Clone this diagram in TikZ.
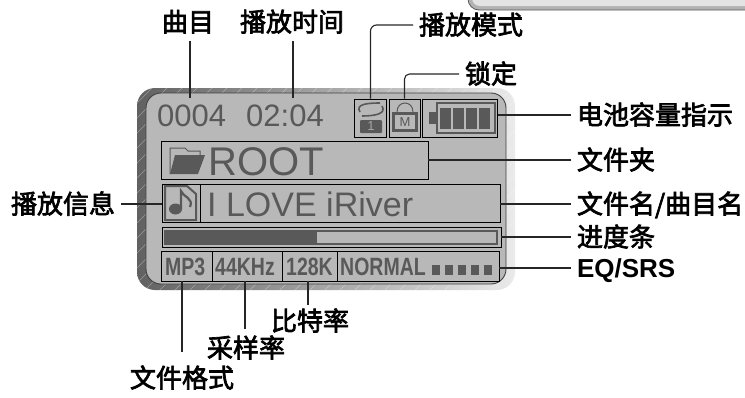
\documentclass[tikz,border=0pt]{standalone}
\usepackage{fontspec}
\setmainfont{Liberation Sans}
\newfontfamily\cjk[FakeBold=2.6]{Noto Sans CJK SC}
\newfontfamily\statusfont[FakeStretch=0.78]{Liberation Sans Bold}
\usetikzlibrary{positioning}
\definecolor{lcdgray}{gray}{0.72}
\definecolor{inkgray}{gray}{0.35}
\tikzset{
    labeltext/.style={font=\cjk\fontsize{26}{26}\selectfont, inner sep=1pt, outer sep=5pt, text height=22pt, text depth=3pt},
    panelbox/.style={draw=black, line width=0.9pt, inner sep=0pt},
    lcdtext/.style={text=inkgray, inner sep=0pt, anchor=base west},
    statustext/.style={text=inkgray, font=\statusfont\fontsize{25}{25}\selectfont, inner sep=0pt, anchor=base west},
    conn/.style={draw=black!85, line width=1.1pt}
}

\begin{document}
\begin{tikzpicture}[x=1pt,y=-1pt]
    \useasboundingbox (0,0) rectangle (745,397);

    % corner of the next panel
    \draw[draw=gray!70!black, fill=gray!60, line width=0.8pt, rounded corners=11pt] (468,-30) rectangle (760,10);
    \fill[gray!22, rounded corners=8pt] (472,-30) rectangle (760,6);

    % body of the player
    \begin{scope}
        \clip[rounded corners=18pt] (137,88) rectangle (515,290);
        \shade[left color=black!62, right color=black!8] (137,88) rectangle (515,290);
        \foreach \hatchx in {130,145,...,660} {
            \draw[white, opacity=0.35, line width=0.5pt] (\hatchx,80) -- ++(-250,250);
        }
    \end{scope}
    \draw[draw=black!75, fill=lcdgray, line width=0.9pt, rounded corners=15pt] (146,93) rectangle (506,284);

    % panels
    \node[panelbox, minimum width=32pt, minimum height=38pt] (modebox) at (370.5,118) {};
    \node[panelbox, minimum width=31pt, minimum height=38pt] (lockbox) at (404.5,118) {};
    \node[panelbox, minimum width=75pt, minimum height=38pt] (batterybox) at (460,118) {};
    \node[panelbox, minimum width=267pt, minimum height=38pt] (folderbox) at (294.5,160) {};
    \node[panelbox, minimum width=338pt, minimum height=38pt] (trackbox) at (331,203) {};
    \node[panelbox, minimum width=339pt, minimum height=20pt] (progressbox) at (331.5,237) {};
    \node[panelbox, minimum width=338pt, minimum height=30pt] (statusbox) at (330,266) {};
    \draw[black, line width=0.9pt] (200,184) -- (200,222);
    \foreach \divx in {212,282,337} {
        \draw[black, line width=0.9pt] (\divx,251) -- (\divx,281);
    }

    % lcd texts
    \node[lcdtext, font=\fontsize{31}{31}\selectfont] (counttext) at (157,126) {0004};
    \node[lcdtext, font=\fontsize{31}{31}\selectfont] (timetext) at (246,126) {02:04};
    \node[lcdtext, font=\fontsize{40}{40}\selectfont] (roottext) at (208,175) {ROOT};
    \node[lcdtext, font=\fontsize{34}{34}\selectfont] (songtext) at (207,216) {I LOVE iRiver};
    \node[statustext] (mptext) at (165,275) {MP3};
    \node[statustext] (ratetext) at (215,275) {44KHz};
    \node[statustext] (bittext) at (286,275) {128K};
    \node[statustext] (eqtext) at (340,275) {NORMAL};
    \foreach \dotx in {432,445,458,471,484} {
        \fill[inkgray] (\dotx,265) rectangle ++(8,10);
    }

    % progress bar
    \draw[draw=inkgray, line width=1.2pt] (165,231) rectangle (497,244);
    \fill[inkgray] (165,231) rectangle (317,244);

    % folder
    \draw[draw=inkgray, line width=1pt] (170,174) -- (170,148) -- (185,148) -- (188,151) -- (200,151) -- (200,155);
    \fill[inkgray] (175,155) -- (205,155) -- (198,174) -- (170,174) -- cycle;

    % note
    \draw[draw=inkgray, line width=2pt] (165,186) -- (187,186) -- (196,194) -- (196,220) -- (165,220) -- cycle;
    \fill[inkgray] (175.5,209) ellipse (6.5pt and 5.5pt);
    \draw[inkgray, line width=2.2pt] (181,209) -- (181,191) .. controls (183,197) and (194,198) .. (190,207);

    % play mode icon
    \draw[draw=inkgray, line width=1.6pt] (360,112) .. controls (355,104) and (368,103) .. (380,103);
    \draw[draw=inkgray, line width=1.6pt] (382,106) .. controls (387,114) and (374,116) .. (362,116);
    \fill[inkgray, rounded corners=1pt] (360,120) rectangle (382,133);
    \node[text=gray!70, font=\fontsize{13}{13}\selectfont, inner sep=0pt] (modenum) at (371,126.5) {1};

    % lock icon
    \draw[draw=inkgray, line width=1pt] (397,112) .. controls (397,100) and (413,100) .. (413,112);
    \draw[draw=inkgray, line width=3pt] (393.5,113.5) rectangle (416.5,130.5);
    \node[text=inkgray, font=\fontsize{13}{13}\selectfont, inner sep=0pt] (lockletter) at (405,122) {M};

    % battery icon
    \fill[inkgray] (429,112) rectangle (436,124);
    \draw[draw=inkgray, line width=2pt] (437,103) rectangle (495,133);
    \foreach \cellx in {440,453,466,479} {
        \fill[inkgray] (\cellx,108) rectangle ++(11,21);
    }

    % labels
    \node[labeltext] (tracklabel) at (188,22) {曲目};
    \node[labeltext] (timelabel) at (292,22) {播放时间};
    \node[labeltext, anchor=west] (modelabel) at (413,25) {播放模式};
    \node[labeltext, anchor=west] (locklabel) at (459,74) {锁定};
    \node[labeltext, anchor=west] (batterylabel) at (571,115) {电池容量指示};
    \node[labeltext, anchor=west] (folderlabel) at (571,160) {文件夹};
    \node[labeltext, anchor=west] (filelabel) at (571,204) {文件名/曲目名};
    \node[labeltext, anchor=west] (progresslabel) at (571,237) {进度条};
    \node[labeltext, anchor=west, font=\bfseries\fontsize{26}{26}\selectfont] (eqlabel) at (571,268) {EQ/SRS};
    \node[labeltext, anchor=east] (infolabel) at (121,204) {播放信息};
    \node[labeltext] (bitlabel) at (310,321) {比特率};
    \node[labeltext] (ratelabel) at (246,348) {采样率};
    \node[labeltext] (formatlabel) at (182,378) {文件格式};

    \coordinate (counttip) at (190,98);
    \coordinate (timetip) at (293,98);
    \coordinate (counttop) at (190,41);
    \coordinate (timetop) at (293,41);
    \coordinate (formattip) at (182,281);
    \coordinate (ratetip) at (245,281);
    \coordinate (bittip) at (308,281);
    \coordinate (formatend) at (182,352);
    \coordinate (rateend) at (245,329);
    \coordinate (bitend) at (308,305);

    % connectors
    \draw[conn] (counttop) -- (counttip);
    \draw[conn] (timetop) -- (timetip);
    \draw[conn, rounded corners=6pt] (modebox.north) |- (modelabel.west);
    \draw[conn, rounded corners=5pt] (lockbox.north) |- (locklabel.west);
    \draw[conn] (batterylabel.west) -- (batterylabel.west -| batterybox.east);
    \draw[conn] (folderlabel.west) -- (folderlabel.west -| folderbox.east);
    \draw[conn] (filelabel.west) -- (filelabel.west -| trackbox.east);
    \draw[conn] (progresslabel.west) -- (progressbox.east);
    \draw[conn] (eqlabel.west) -- (eqlabel.west -| statusbox.east);
    \draw[conn] (infolabel.east) -- (infolabel.east -| trackbox.west);
    \draw[conn] (formatend) -- (formattip);
    \draw[conn] (rateend) -- (ratetip);
    \draw[conn] (bitend) -- (bittip);
\end{tikzpicture}
\end{document}
